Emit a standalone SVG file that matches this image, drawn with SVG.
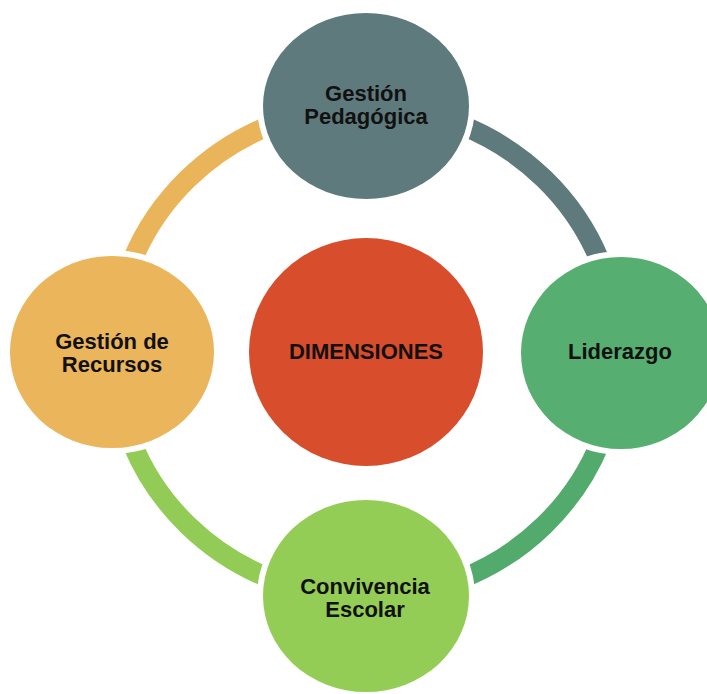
<svg xmlns="http://www.w3.org/2000/svg" width="707" height="694" viewBox="0 0 707 694">
  <style>
    .arc { fill: none; stroke-width: 20; }
    .halo { fill: #ffffff; }
    .lbl { font-family: "Liberation Sans", Arial, sans-serif; font-weight: bold; font-size: 22px; fill: #111111; text-anchor: middle; }
  </style>
  <rect width="707" height="694" fill="#ffffff"/>
  <g id="connectors">
    <path class="arc" stroke="#5F7A7C" d="M366,107 A252,245 0 0 1 618,352"/>
    <path class="arc" stroke="#52AA6C" d="M618,352 A252,245 0 0 1 366,597"/>
    <path class="arc" stroke="#93CB57" d="M366,597 A252,245 0 0 1 114,352"/>
    <path class="arc" stroke="#EAB45A" d="M114,352 A252,245 0 0 1 366,107"/>
  </g>
  <g id="node-center">
    <ellipse class="halo" cx="366" cy="352" rx="122" ry="119"/>
    <ellipse cx="366" cy="352" rx="117" ry="114" fill="#D84D2C"/>
    <text class="lbl" x="366" y="359">DIMENSIONES</text>
  </g>
  <g id="node-pedagogica">
    <ellipse class="halo" cx="366" cy="106" rx="109" ry="99"/>
    <ellipse cx="366" cy="106" rx="103" ry="93" fill="#5F7A7C"/>
    <text class="lbl" x="366" y="101">Gestión</text>
    <text class="lbl" x="366" y="124">Pedagógica</text>
  </g>
  <g id="node-liderazgo">
    <ellipse class="halo" cx="621" cy="353" rx="106" ry="102"/>
    <ellipse cx="621" cy="353" rx="100" ry="96" fill="#56AE70"/>
    <text class="lbl" x="620" y="359">Liderazgo</text>
  </g>
  <g id="node-convivencia">
    <ellipse class="halo" cx="366" cy="596" rx="109" ry="102"/>
    <ellipse cx="366" cy="596" rx="103" ry="96" fill="#93CD55"/>
    <text class="lbl" x="365" y="594">Convivencia</text>
    <text class="lbl" x="365" y="617">Escolar</text>
  </g>
  <g id="node-recursos">
    <ellipse class="halo" cx="112" cy="352" rx="108" ry="102"/>
    <ellipse cx="112" cy="352" rx="102" ry="96" fill="#EAB55B"/>
    <text class="lbl" x="112" y="349">Gestión de</text>
    <text class="lbl" x="112" y="372">Recursos</text>
  </g>
</svg>
